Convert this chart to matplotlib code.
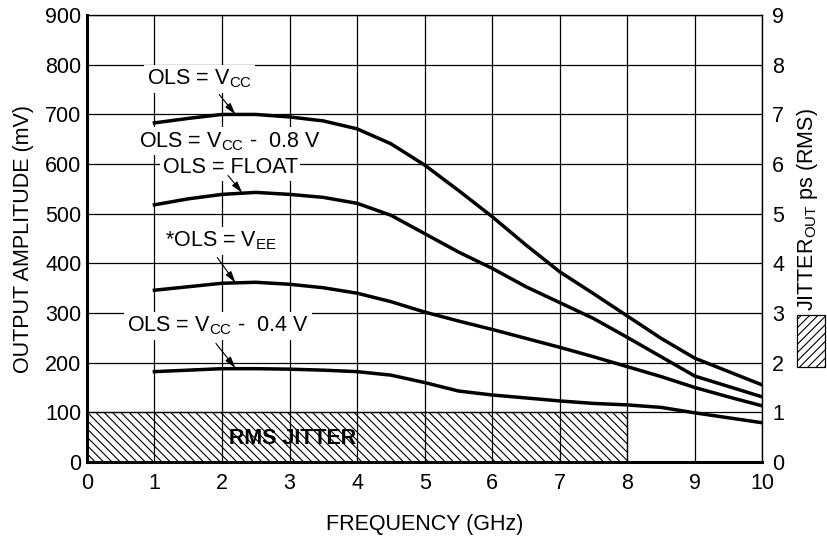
import matplotlib.pyplot as plt
from matplotlib.patches import Rectangle

plt.rcParams['font.family'] = ['Liberation Sans', 'DejaVu Sans']
plt.rcParams['mathtext.default'] = 'regular'
plt.rcParams['hatch.linewidth'] = 0.8

# data (GHz, mV)
freq = [1, 1.5, 2, 2.5, 3, 3.5, 4, 4.5, 5, 5.5, 6, 6.5, 7, 7.5, 8, 8.5, 9, 9.5, 10]
ols_vcc = [683, 692, 700, 700, 695, 687, 671, 641, 598, 547, 494, 437, 383,
           339, 294, 249, 209, 182, 155]
ols_float = [518, 530, 539, 543, 539, 533, 521, 497, 460, 423, 390, 353, 321,
             289, 251, 212, 173, 152, 131]
ols_vee = [346, 353, 360, 362, 358, 351, 340, 323, 302, 284, 267, 249, 231,
           212, 192, 172, 150, 131, 113]
ols_vcc_04 = [182, 185, 188, 188, 187, 185, 182, 175, 160, 143, 135, 129, 123,
              118, 115, 110, 99, 89, 79]

jitter_x = [0, 8]
jitter_ps = 1.0

labels = [
    # text, text pos, arrow start, arrow tip
    ('OLS = V$_{CC}$', (1.67, 771), (1.96, 740), (2.2, 700)),
    ('OLS = V$_{CC}$ -  0.8 V', (2.12, 646), None, None),
    ('OLS = FLOAT', (2.12, 593), (2.09, 577), (2.3, 542)),
    ('*OLS = V$_{EE}$', (1.99, 445), (1.93, 412), (2.2, 361)),
    ('OLS = V$_{CC}$ -  0.4 V', (1.94, 274), (1.91, 239), (2.2, 189)),
]

fs = 15.5

fig = plt.figure(figsize=(8.27, 5.41), dpi=100)
ax = fig.add_axes([0.105, 0.146, 0.817, 0.826])

ax.set_xlim(0, 10)
ax.set_ylim(0, 900)
ax.set_xticks(range(0, 11))
ax.set_yticks(range(0, 901, 100))
ax.grid(True, color='black', linewidth=0.9)
ax.set_axisbelow(True)
ax.tick_params(length=0, labelsize=fs)
ax.tick_params(axis='x', pad=8)
ax.tick_params(axis='y', pad=4)
for s in ['left', 'bottom']:
    ax.spines[s].set_linewidth(2.2)
for s in ['top', 'right']:
    ax.spines[s].set_linewidth(1.0)

# jitter band, in ps scale of right axis (1 ps = 100 mV)
ax.fill_between(jitter_x, 0, jitter_ps * 100, facecolor='none',
                edgecolor='black', hatch='\\' * 4, linewidth=0.9, zorder=1.5)
ax.text(3.05, 48, 'RMS JITTER', fontsize=fs, fontweight='bold',
        ha='center', va='center')

for ys in [ols_vcc, ols_float, ols_vee, ols_vcc_04]:
    ax.plot(freq, ys, color='black', linewidth=2.5, zorder=3)

for txt, pos, a0, a1 in labels:
    ax.text(pos[0], pos[1], txt, fontsize=fs, ha='center', va='center',
            zorder=4, bbox=dict(facecolor='white', edgecolor='none', pad=2))
    if a0 is not None:
        ax.annotate('', xy=a1, xytext=a0, zorder=5,
                    arrowprops=dict(arrowstyle='-|>,head_length=0.7,head_width=0.2',
                                    color='black', lw=0.8, shrinkA=0, shrinkB=0))

ax.set_xlabel('FREQUENCY (GHz)', fontsize=fs, labelpad=14)
ax.set_ylabel('OUTPUT AMPLITUDE (mV)', fontsize=fs, labelpad=8)

ax2 = ax.twinx()
ax2.set_ylim(0, 9)
ax2.set_yticks(range(0, 10))
ax2.tick_params(length=0, labelsize=fs, pad=7)
for s in ax2.spines.values():
    s.set_visible(False)

fig.text(0.977, 0.612, 'JITTER$_{OUT}$ ps (RMS)', fontsize=fs, rotation=90,
         ha='center', va='center')
fig.add_artist(Rectangle((797 / 827, 1 - 367 / 541), 28 / 827, 52 / 541,
                         transform=fig.transFigure, facecolor='none',
                         edgecolor='black', hatch='/' * 4, linewidth=0.9))

fig.savefig('out.png', dpi=100)
